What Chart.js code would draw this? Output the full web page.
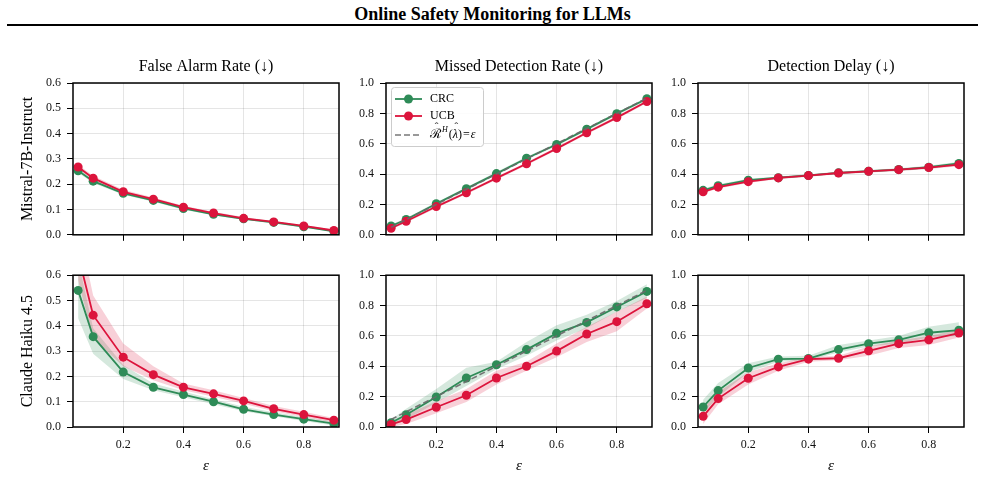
<!DOCTYPE html>
<html>
<head>
<meta charset="utf-8">
<script src="https://cdn.jsdelivr.net/npm/chart.js@4.4.1/dist/chart.umd.min.js"></script>
<style>
  body { margin: 0; background: #fff; width: 985px; height: 490px; position: relative; overflow: hidden; font-family: 'Liberation Serif', 'DejaVu Serif', serif; }
  #title { position: absolute; left: 0; top: 3px; width: 985px; text-align: center; font-weight: bold; font-size: 18px; line-height: 22px; color: #000; }
  #rule { position: absolute; left: 7px; top: 24px; width: 971px; height: 2px; background: #000; }
  canvas { position: absolute; }
</style>
</head>
<body>
<div id="title">Online Safety Monitoring for LLMs</div>
<div id="rule"></div>
<canvas id="p0" width="332" height="195" style="left:13px;top:53px"></canvas>
<canvas id="p1" width="332" height="195" style="left:326px;top:53px"></canvas>
<canvas id="p2" width="332" height="195" style="left:638px;top:53px"></canvas>
<canvas id="p3" width="332" height="213" style="left:13px;top:262px"></canvas>
<canvas id="p4" width="332" height="213" style="left:326px;top:262px"></canvas>
<canvas id="p5" width="332" height="213" style="left:638px;top:262px"></canvas>
<script>
const eps = [0.05, 0.1, 0.2, 0.3, 0.4, 0.5, 0.6, 0.7, 0.8, 0.9];
const xTicks = [0.2, 0.4, 0.6, 0.8];
const farTicks = [0, 0.1, 0.2, 0.3, 0.4, 0.5, 0.6];
const unitTicks = [0, 0.2, 0.4, 0.6, 0.8, 1.0];
const metrics = ["False Alarm Rate (\u2193)", "Missed Detection Rate (\u2193)", "Detection Delay (\u2193)"];
const models = ["Mistral-7B-Instruct", "Claude Haiku 4.5"];

// Mistral-7B-Instruct
const mistralFarCrc   = [0.253, 0.212, 0.164, 0.136, 0.104, 0.081, 0.063, 0.049, 0.032, 0.014];
const mistralFarCrcLo = [0.245, 0.205, 0.158, 0.131, 0.099, 0.077, 0.059, 0.045, 0.029, 0.011];
const mistralFarCrcHi = [0.262, 0.220, 0.171, 0.142, 0.109, 0.086, 0.068, 0.053, 0.036, 0.018];
const mistralFarUcb   = [0.268, 0.224, 0.170, 0.141, 0.109, 0.086, 0.065, 0.051, 0.035, 0.017];
const mistralFarUcbLo = [0.260, 0.216, 0.163, 0.135, 0.104, 0.081, 0.061, 0.047, 0.031, 0.013];
const mistralFarUcbHi = [0.277, 0.233, 0.178, 0.147, 0.115, 0.091, 0.070, 0.055, 0.039, 0.021];

const mistralMdrCrc   = [0.058, 0.101, 0.205, 0.304, 0.403, 0.504, 0.595, 0.696, 0.798, 0.896];
const mistralMdrCrcLo = [0.050, 0.092, 0.195, 0.294, 0.393, 0.494, 0.585, 0.686, 0.788, 0.886];
const mistralMdrCrcHi = [0.066, 0.110, 0.215, 0.314, 0.413, 0.514, 0.605, 0.706, 0.808, 0.906];
const mistralMdrUcb   = [0.043, 0.089, 0.186, 0.277, 0.373, 0.468, 0.568, 0.672, 0.772, 0.878];
const mistralMdrUcbLo = [0.036, 0.080, 0.177, 0.267, 0.363, 0.458, 0.558, 0.662, 0.762, 0.868];
const mistralMdrUcbHi = [0.051, 0.098, 0.195, 0.287, 0.383, 0.478, 0.578, 0.682, 0.782, 0.888];

const mistralDdCrc   = [0.293, 0.323, 0.360, 0.376, 0.391, 0.408, 0.419, 0.430, 0.445, 0.470];
const mistralDdCrcLo = [0.283, 0.313, 0.351, 0.368, 0.383, 0.400, 0.411, 0.421, 0.435, 0.458];
const mistralDdCrcHi = [0.303, 0.333, 0.369, 0.384, 0.399, 0.416, 0.427, 0.439, 0.455, 0.482];
const mistralDdUcb   = [0.283, 0.314, 0.350, 0.375, 0.390, 0.407, 0.418, 0.429, 0.443, 0.462];
const mistralDdUcbLo = [0.274, 0.305, 0.342, 0.367, 0.382, 0.399, 0.410, 0.421, 0.434, 0.452];
const mistralDdUcbHi = [0.292, 0.323, 0.358, 0.383, 0.398, 0.415, 0.426, 0.437, 0.452, 0.472];

// Claude Haiku 4.5
const claudeFarCrc   = [0.540, 0.357, 0.217, 0.157, 0.128, 0.100, 0.070, 0.049, 0.031, 0.013];
const claudeFarCrcLo = [0.430, 0.290, 0.190, 0.145, 0.118, 0.090, 0.062, 0.042, 0.024, 0.006];
const claudeFarCrcHi = [0.660, 0.390, 0.245, 0.172, 0.140, 0.110, 0.080, 0.058, 0.040, 0.022];
const claudeFarUcb   = [0.680, 0.442, 0.276, 0.207, 0.157, 0.131, 0.103, 0.072, 0.049, 0.027];
const claudeFarUcbLo = [0.580, 0.350, 0.240, 0.185, 0.145, 0.120, 0.092, 0.062, 0.040, 0.018];
const claudeFarUcbHi = [0.800, 0.520, 0.330, 0.240, 0.172, 0.145, 0.115, 0.083, 0.060, 0.036];

const claudeMdrCrc   = [0.028, 0.081, 0.198, 0.323, 0.410, 0.510, 0.617, 0.689, 0.791, 0.893];
const claudeMdrCrcLo = [0.010, 0.050, 0.160, 0.270, 0.380, 0.470, 0.570, 0.650, 0.760, 0.850];
const claudeMdrCrcHi = [0.050, 0.120, 0.250, 0.390, 0.430, 0.560, 0.670, 0.740, 0.830, 0.940];
const claudeMdrUcb   = [0.017, 0.049, 0.130, 0.209, 0.323, 0.400, 0.500, 0.613, 0.694, 0.812];
const claudeMdrUcbLo = [0.000, 0.020, 0.090, 0.165, 0.280, 0.370, 0.460, 0.560, 0.630, 0.780];
const claudeMdrUcbHi = [0.035, 0.080, 0.170, 0.250, 0.370, 0.430, 0.550, 0.660, 0.760, 0.860];

const claudeDdCrc   = [0.132, 0.240, 0.389, 0.447, 0.451, 0.510, 0.549, 0.574, 0.621, 0.638];
const claudeDdCrcLo = [0.090, 0.200, 0.360, 0.430, 0.440, 0.490, 0.530, 0.550, 0.590, 0.600];
const claudeDdCrcHi = [0.180, 0.290, 0.420, 0.465, 0.470, 0.540, 0.570, 0.600, 0.660, 0.690];
const claudeDdUcb   = [0.070, 0.187, 0.321, 0.396, 0.447, 0.453, 0.502, 0.549, 0.574, 0.619];
const claudeDdUcbLo = [0.020, 0.150, 0.280, 0.370, 0.430, 0.440, 0.470, 0.520, 0.540, 0.590];
const claudeDdUcbHi = [0.120, 0.230, 0.360, 0.420, 0.460, 0.470, 0.530, 0.570, 0.600, 0.640];

const GREEN = "#2e8b57";
const RED = "#dc143c";
const SERIF = "'Liberation Serif', 'DejaVu Serif', serif";
const GRID = "rgba(0,0,0,0.1)";

const panels = [
  {id: "p0", row: 0, col: 0, yMax: 0.6, yTicks: farTicks, crc: [mistralFarCrc, mistralFarCrcLo, mistralFarCrcHi], ucb: [mistralFarUcb, mistralFarUcbLo, mistralFarUcbHi]},
  {id: "p1", row: 0, col: 1, yMax: 1.0, yTicks: unitTicks, crc: [mistralMdrCrc, mistralMdrCrcLo, mistralMdrCrcHi], ucb: [mistralMdrUcb, mistralMdrUcbLo, mistralMdrUcbHi], ideal: true, legend: true},
  {id: "p2", row: 0, col: 2, yMax: 1.0, yTicks: unitTicks, crc: [mistralDdCrc, mistralDdCrcLo, mistralDdCrcHi], ucb: [mistralDdUcb, mistralDdUcbLo, mistralDdUcbHi]},
  {id: "p3", row: 1, col: 0, yMax: 0.6, yTicks: farTicks, crc: [claudeFarCrc, claudeFarCrcLo, claudeFarCrcHi], ucb: [claudeFarUcb, claudeFarUcbLo, claudeFarUcbHi]},
  {id: "p4", row: 1, col: 1, yMax: 1.0, yTicks: unitTicks, crc: [claudeMdrCrc, claudeMdrCrcLo, claudeMdrCrcHi], ucb: [claudeMdrUcb, claudeMdrUcbLo, claudeMdrUcbHi], ideal: true},
  {id: "p5", row: 1, col: 2, yMax: 1.0, yTicks: unitTicks, crc: [claudeDdCrc, claudeDdCrcLo, claudeDdCrcHi], ucb: [claudeDdUcb, claudeDdUcbLo, claudeDdUcbHi]}
];

const pts = arr => arr.map((y, i) => ({x: eps[i], y: y}));

// box around the plot area, like matplotlib spines
const frame = {
  id: "frame",
  afterDatasetsDraw(chart) {
    const {ctx, chartArea: a} = chart;
    ctx.save();
    ctx.strokeStyle = "#000";
    ctx.lineWidth = 1.5;
    ctx.strokeRect(a.left, a.top, a.right - a.left, a.bottom - a.top);
    ctx.restore();
  }
};

// column title centred over the plot area (not the whole canvas)
function colTitle(text) {
  return {
    id: "colTitle",
    afterDraw(chart) {
      const {ctx, chartArea: a} = chart;
      ctx.save();
      ctx.font = "16px " + SERIF;
      ctx.fillStyle = "#000";
      ctx.textAlign = "center";
      ctx.textBaseline = "middle";
      ctx.fillText(text, (a.left + a.right) / 2, a.top - 16);
      ctx.restore();
    }
  };
}

// matplotlib style legend box (line + marker handles)
const legendBox = {
  id: "legendBox",
  afterDraw(chart) {
    const {ctx, chartArea: a} = chart;
    const x0 = a.left + 5, y0 = a.top + 4, w = 92, h = 59;
    ctx.save();
    ctx.beginPath();
    ctx.roundRect(x0 + 0.5, y0 + 0.5, w, h, 3);
    ctx.fillStyle = "rgba(255,255,255,0.85)";
    ctx.fill();
    ctx.strokeStyle = "#cccccc";
    ctx.lineWidth = 1;
    ctx.stroke();
    const items = chart.data.datasets.filter(d => d.label);
    const rowsY = [12, 29, 48];
    items.forEach((d, i) => {
      const y = y0 + rowsY[i];
      ctx.strokeStyle = d.borderColor;
      ctx.lineWidth = d.borderWidth;
      ctx.setLineDash(d.borderDash || []);
      ctx.beginPath();
      ctx.moveTo(x0 + 4, y);
      ctx.lineTo(x0 + 31, y);
      ctx.stroke();
      ctx.setLineDash([]);
      if (d.pointRadius > 0) {
        ctx.fillStyle = d.borderColor;
        ctx.beginPath();
        ctx.arc(x0 + 17.5, y, 4.5, 0, Math.PI * 2);
        ctx.fill();
      }
      ctx.fillStyle = "#000";
      ctx.textBaseline = "middle";
      ctx.textAlign = "left";
      let tx = x0 + 39;
      if (d.mathLabel) {
        d.mathLabel.forEach(p => {
          ctx.font = (p.italic ? "italic " : "") + p.size + "px " + SERIF;
          const wd = ctx.measureText(p.t).width;
          ctx.fillText(p.t, tx, y + (p.dy || 0));
          if (p.hat) {
            ctx.font = "11px " + SERIF;
            ctx.textAlign = "center";
            ctx.fillText("\u02C6", tx + wd / 2 + 1, y - 8);
            ctx.textAlign = "left";
          }
          tx += wd + (p.gap || 0);
        });
      } else {
        ctx.font = "12px " + SERIF;
        ctx.fillText(d.label, tx, y);
      }
    });
    ctx.restore();
  }
};

panels.forEach(p => {
  const datasets = [
    {data: pts(p.crc[2]), borderWidth: 0, pointRadius: 0, fill: false, order: 9},
    {data: pts(p.crc[1]), borderWidth: 0, pointRadius: 0, fill: "-1", backgroundColor: "rgba(46,139,87,0.2)", order: 9},
    {data: pts(p.ucb[2]), borderWidth: 0, pointRadius: 0, fill: false, order: 8},
    {data: pts(p.ucb[1]), borderWidth: 0, pointRadius: 0, fill: "-1", backgroundColor: "rgba(220,20,60,0.2)", order: 8},
    {label: "CRC", data: pts(p.crc[0]), borderColor: GREEN, backgroundColor: GREEN, borderWidth: 1.8,
     pointRadius: 4.5, pointBorderWidth: 0, pointBackgroundColor: GREEN, fill: false, order: 5},
    {label: "UCB", data: pts(p.ucb[0]), borderColor: RED, backgroundColor: RED, borderWidth: 1.8,
     pointRadius: 4.5, pointBorderWidth: 0, pointBackgroundColor: RED, fill: false, order: 4}
  ];
  if (p.ideal) {
    datasets.push({label: "R^H(lambda^)=eps", data: pts(eps), borderColor: "rgba(105,105,105,0.9)", borderWidth: 1.6,
      borderDash: [6, 3], pointRadius: 0, fill: false, order: 3,
      mathLabel: [
        {t: "\u211B", size: 13, hat: true, gap: 1},
        {t: "H", size: 8, italic: true, dy: -5, gap: 1},
        {t: "(", size: 12},
        {t: "\u03BB", size: 12, italic: true, hat: true},
        {t: ")", size: 12, gap: 1},
        {t: "=", size: 12, gap: 1},
        {t: "\u03B5", size: 12, italic: true}
      ]});
  }
  const bottom = p.row === 1;
  const plugins = [frame];
  if (!bottom) plugins.push(colTitle(metrics[p.col]));
  if (p.legend) plugins.push(legendBox);
  new Chart(document.getElementById(p.id).getContext("2d"), {
    type: "line",
    data: {datasets: datasets},
    options: {
      responsive: false,
      animation: false,
      layout: {padding: {top: bottom ? 8 : 30, right: 6, bottom: 0, left: 0}},
      plugins: {
        legend: {display: false},
        tooltip: {enabled: false},
        title: {display: false}
      },
      scales: {
        x: {
          type: "linear",
          min: 0.033,
          max: 0.917,
          afterBuildTicks: s => { s.ticks = xTicks.map(v => ({value: v})); },
          afterFit: s => { s.height = bottom ? 48 : 8; },
          border: {display: false},
          grid: {color: GRID, lineWidth: 1, drawTicks: true, tickLength: 6, tickColor: "#000", tickWidth: 1},
          ticks: {display: bottom, padding: 5, color: "#111", font: {family: SERIF, size: 12},
                  maxRotation: 0, autoSkip: false, callback: v => v.toFixed(1)},
          title: {display: bottom, text: "\u03B5", color: "#000",
                  font: {family: SERIF, size: 15, style: "italic", lineHeight: "18px"}, padding: {top: 0, bottom: 0}}
        },
        y: {
          min: 0,
          max: p.yMax,
          afterBuildTicks: s => { s.ticks = p.yTicks.map(v => ({value: v})); },
          afterFit: s => { s.width = 60; },
          border: {display: false},
          grid: {color: GRID, lineWidth: 1, drawTicks: true, tickLength: 6, tickColor: "#000", tickWidth: 1},
          ticks: {padding: 6, color: "#111", font: {family: SERIF, size: 12}, autoSkip: false,
                  callback: v => v.toFixed(1)},
          title: {display: p.col === 0, text: models[p.row], color: "#000",
                  font: {family: SERIF, size: 16, lineHeight: "16px"}, padding: {top: 7, bottom: 0}}
        }
      }
    },
    plugins: plugins
  });
});
</script>
</body>
</html>
